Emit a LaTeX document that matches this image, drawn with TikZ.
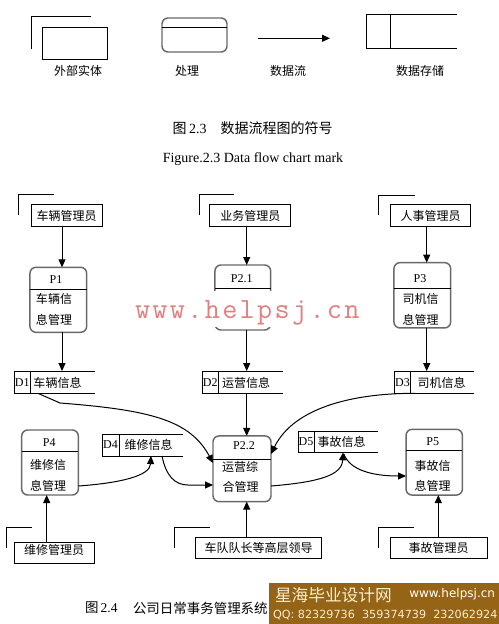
\documentclass[tikz,border=0pt]{standalone}
\usepackage{fontspec}
\setmainfont{Liberation Serif}
\newfontfamily\cjk{Noto Sans CJK SC}
\newfontfamily\wmmono{Latin Modern Mono}[LetterSpace=8]
\newfontfamily\dvs{DejaVu Sans}
\usetikzlibrary{arrows.meta,calc}
\newdimen\px \px=0.75pt
\definecolor{procgray}{RGB}{105,105,105}
\definecolor{wmred}{RGB}{226,128,128}
\definecolor{bannerbrown}{RGB}{150,100,22}
\definecolor{cream}{RGB}{250,238,205}
\begin{document}
\begin{tikzpicture}[x=0.75pt,y=-0.75pt,line width=0.75pt,
  every node/.style={inner sep=0pt,outer sep=0pt},
  cjktext/.style={font=\cjk\fontsize{9}{11}\selectfont},
  latin/.style={font=\fontsize{9}{11}\selectfont},
  ent/.style={draw,fill=white,minimum height=21.5\px,cjktext},
  proc/.style={draw=procgray,line width=1.1pt,rounded corners=4.5pt},
  storebox/.style={minimum height=22.3\px},
  flow/.style={-{Triangle[length=6pt,width=5.25pt]}},
  caption/.style={font=\cjk\fontsize{10.5}{12}\selectfont},
]
\useasboundingbox (0,0) rectangle (499,624);
\fill[white] (0,0) rectangle (499,624);

% ---------------- legend ----------------
\draw (31,49) -- (31,17) -- (91,17);
\node[draw,minimum width=65\px,minimum height=32\px] (LE) at (74.5,44) {};
\node[proc,minimum width=65\px,minimum height=34\px] (LP) at (194.5,35) {};
\draw (162,28) -- (227,28);
\coordinate (LA1) at (258,38.3);
\coordinate (LA2) at (330,38.3);
\draw[flow] (LA1) -- (LA2);
\draw (456.7,14.3) -- (366,14.3) -- (366,48.3) -- (456.7,48.3);
\draw (390,14.3) -- (390,48.3);
\node[cjktext] (l1) at (78,70.7) {外部实体};
\node[cjktext] (l2) at (187,70.7) {处理};
\node[cjktext] (l3) at (288,70.7) {数据流};
\node[cjktext] (l4) at (420,70.7) {数据存储};

\node[caption,anchor=west] (c1a) at (172.7,128) {图\,{\rmfamily 2.3}};
\node[caption,anchor=west] (c1b) at (220.7,128) {数据流程图的符号};
\node[font=\fontsize{10.5}{12}\selectfont] (c1c) at (253,159) {Figure.2.3 Data flow chart mark};

% ---------------- top entities ----------------
\draw (18.3,215) -- (18.3,194.3) -- (54.3,194.3);
\draw (199,215) -- (199,194.3) -- (234.3,194.3);
\draw (378.7,215) -- (378.7,195) -- (415,195);
\node[ent,minimum width=71.3\px] (E1) at (66.7,215.5) {车辆管理员};
\node[ent,minimum width=80.7\px] (E2) at (250.3,215.5) {业务管理员};
\node[ent,minimum width=80\px] (E3) at (430.7,215.5) {人事管理员};

% ---------------- processes ----------------
\node[proc,minimum width=56.7\px,minimum height=65\px] (P1) at (58.3,299.8) {};
\draw (30,289) -- (86.7,289);
\node[latin] (P1l) at (56,279.3) {P1};
\node[cjktext] (P1a) at (54,299) {车辆信};
\node[cjktext] (P1b) at (54,320) {息管理};

\node[proc,minimum width=55.7\px,minimum height=65\px] (P21) at (242.8,297.5) {};
\draw (215,288) -- (270.7,288);
\node[latin] (P21l) at (241.7,278.5) {P2.1};

\node[proc,minimum width=56.7\px,minimum height=65.3\px] (P3) at (422.3,295.3) {};
\draw (394,288.3) -- (450.7,288.3);
\node[latin] (P3l) at (420,278.3) {P3};
\node[cjktext] (P3a) at (420.7,299) {司机信};
\node[cjktext] (P3b) at (420.7,320) {息管理};

% ---------------- data stores ----------------
\node[storebox,minimum width=80.7\px] (D1) at (54.7,382.2) {};
\draw (D1.north east) -- (D1.north west) -- (D1.south west) -- (D1.south east);
\draw (30,371) -- (30,393.3);
\node[latin] (D1i) at (22.2,382.5) {D1};
\node[cjktext] (D1t) at (57.5,382.5) {车辆信息};

\node[storebox,minimum width=80.4\px] (D2) at (242.5,382.2) {};
\draw (D2.north east) -- (D2.north west) -- (D2.south west) -- (D2.south east);
\draw (218.3,371) -- (218.3,393.3);
\node[latin] (D2i) at (210.3,382.5) {D2};
\node[cjktext] (D2t) at (246,382.5) {运营信息};

\node[storebox,minimum width=79.7\px] (D3) at (434.2,382.2) {};
\draw (D3.north east) -- (D3.north west) -- (D3.south west) -- (D3.south east);
\draw (410.7,371) -- (410.7,393.3);
\node[latin] (D3i) at (402.5,382.5) {D3};
\node[cjktext] (D3t) at (441.5,382.5) {司机信息};

\node[storebox,minimum width=81\px,minimum height=22\px] (D4) at (142.5,445) {};
\draw (D4.north east) -- (D4.north west) -- (D4.south west) -- (D4.south east);
\draw (119,434) -- (119,456);
\node[latin] (D4i) at (110.5,445) {D4};
\node[cjktext] (D4t) at (148.5,445) {维修信息};

\node[storebox,minimum width=80\px,minimum height=20.6\px] (D5) at (338,442) {};
\draw (D5.north east) -- (D5.north west) -- (D5.south west) -- (D5.south east);
\draw (314,431.7) -- (314,452.3);
\node[latin] (D5i) at (306,442) {D5};
\node[cjktext] (D5t) at (341.7,442) {事故信息};

% ---------------- lower processes ----------------
\node[proc,minimum width=56.6\px,minimum height=65\px] (P4) at (50,462.5) {};
\draw (21.7,451.7) -- (78.3,451.7);
\node[latin] (P4l) at (49.3,443) {P4};
\node[cjktext] (P4a) at (48,465) {维修信};
\node[cjktext] (P4b) at (48,485.5) {息管理};

\node[proc,minimum width=58\px,minimum height=65.7\px] (P22) at (242,468.8) {};
\draw (213,459.3) -- (271,459.3);
\node[latin] (P22l) at (244,446) {P2.2};
\node[cjktext] (P22a) at (240,467) {运营综};
\node[cjktext] (P22b) at (240.5,486.7) {合管理};

\node[proc,minimum width=56.3\px,minimum height=65.7\px] (P5) at (434.2,462.2) {};
\draw (406,450) -- (462.3,450);
\node[latin] (P5l) at (432.7,441.5) {P5};
\node[cjktext] (P5a) at (432.7,466) {事故信};
\node[cjktext] (P5b) at (432.7,486) {息管理};

% ---------------- bottom entities ----------------
\draw (6.7,548.3) -- (6.7,527.3) -- (31.7,527.3);
\draw (174.3,548.3) -- (174.3,527.3) -- (210,527.3);
\draw (378.3,548.3) -- (378.3,527.3) -- (414,527.3);
\node[ent,minimum width=80\px] (E4) at (54.3,553.2) {};
\node[cjktext] (E4t) at (54,550) {维修管理员};
\node[ent,minimum width=126\px] (E5) at (258.7,548) {车队队长等高层领导};
\node[ent,minimum width=97\px] (E6) at (438.5,548) {事故管理员};

% ---------------- vertical flows ----------------
\draw[flow] (62,0 |- E1.south) -- (62,0 |- P1.north);
\draw[flow] (62,0 |- P1.south) -- (62,0 |- D1.north);
\draw[flow] (246.7,0 |- E2.south) -- (246.7,0 |- P21.north);
\draw[flow] (246.7,0 |- P21.south) -- (246.7,0 |- D2.north);
\draw[flow] (246.7,0 |- D2.south) -- (246.7,0 |- P22.north);
\draw[flow] (426.7,0 |- E3.south) -- (426.7,0 |- P3.north);
\draw[flow] (426.7,0 |- P3.south) -- (426.7,0 |- D3.north);
\draw[flow] (46.7,0 |- E4.north) -- (46.7,0 |- P4.south);
\draw[flow] (246.7,0 |- E5.north) -- (246.7,0 |- P22.south);
\draw[flow] (438.3,0 |- E6.north) -- (438.3,0 |- P5.south);

% ---------------- curved flows ----------------
\draw[flow] ($(D1.south west)+(23.7,0)$) -- (60,403) .. controls (150,410) and (190,420) .. (P22.west |- 0,463);
\draw[flow] ($(D4.south west)+(60,0)$) .. controls (166,476) and (175,485) .. (188,485) -- (P22.west |- 0,485);
\draw[flow] (P4.east |- 0,486) .. controls (120,483) and (150,476) .. ($(D4.south west)+(49,0)$);
\draw[flow] ($(D3.south west)+(21,0)$) .. controls (360,393) and (295,405) .. (P22.east |- 0,454);
\draw[flow] (P22.east |- 0,486) .. controls (320,482) and (342,475) .. ($(D5.south west)+(45,0)$);
\draw[flow] ($(D5.south west)+(46,2)$) .. controls (350,470) and (372,476) .. (P5.west |- 0,476);

% ---------------- watermark ----------------
\fill[white] (130,291) rectangle (372,326.5);
\node[font=\wmmono\fontsize{22}{23}\selectfont,text=wmred,anchor=base west] (wm) at (135,318.5) {www.helpsj.cn};

% ---------------- caption 2.4 and banner ----------------
\node[font=\cjk\fontsize{10.1}{12}\selectfont,anchor=west] (c2a) at (85,608) {图\,{\rmfamily 2.4}};
\node[font=\cjk\fontsize{10.1}{12}\selectfont,anchor=west] (c2b) at (133,608) {公司日常事务管理系统};
\fill[bannerbrown] (269,583) rectangle (499,624);
\node[font=\cjk\fontsize{12.5}{13}\selectfont,text=cream,anchor=west] (b1) at (275,595) {星海毕业设计网};
\node[font=\dvs\fontsize{9}{10}\selectfont,text=white,anchor=east] (b2) at (495,594) {www.helpsj.cn};
\node[font=\dvs\fontsize{8.4}{10}\selectfont,text=cream,anchor=west] (b3) at (273,615) {QQ: 82329736~~359374739~~232062924};
\end{tikzpicture}
\end{document}
